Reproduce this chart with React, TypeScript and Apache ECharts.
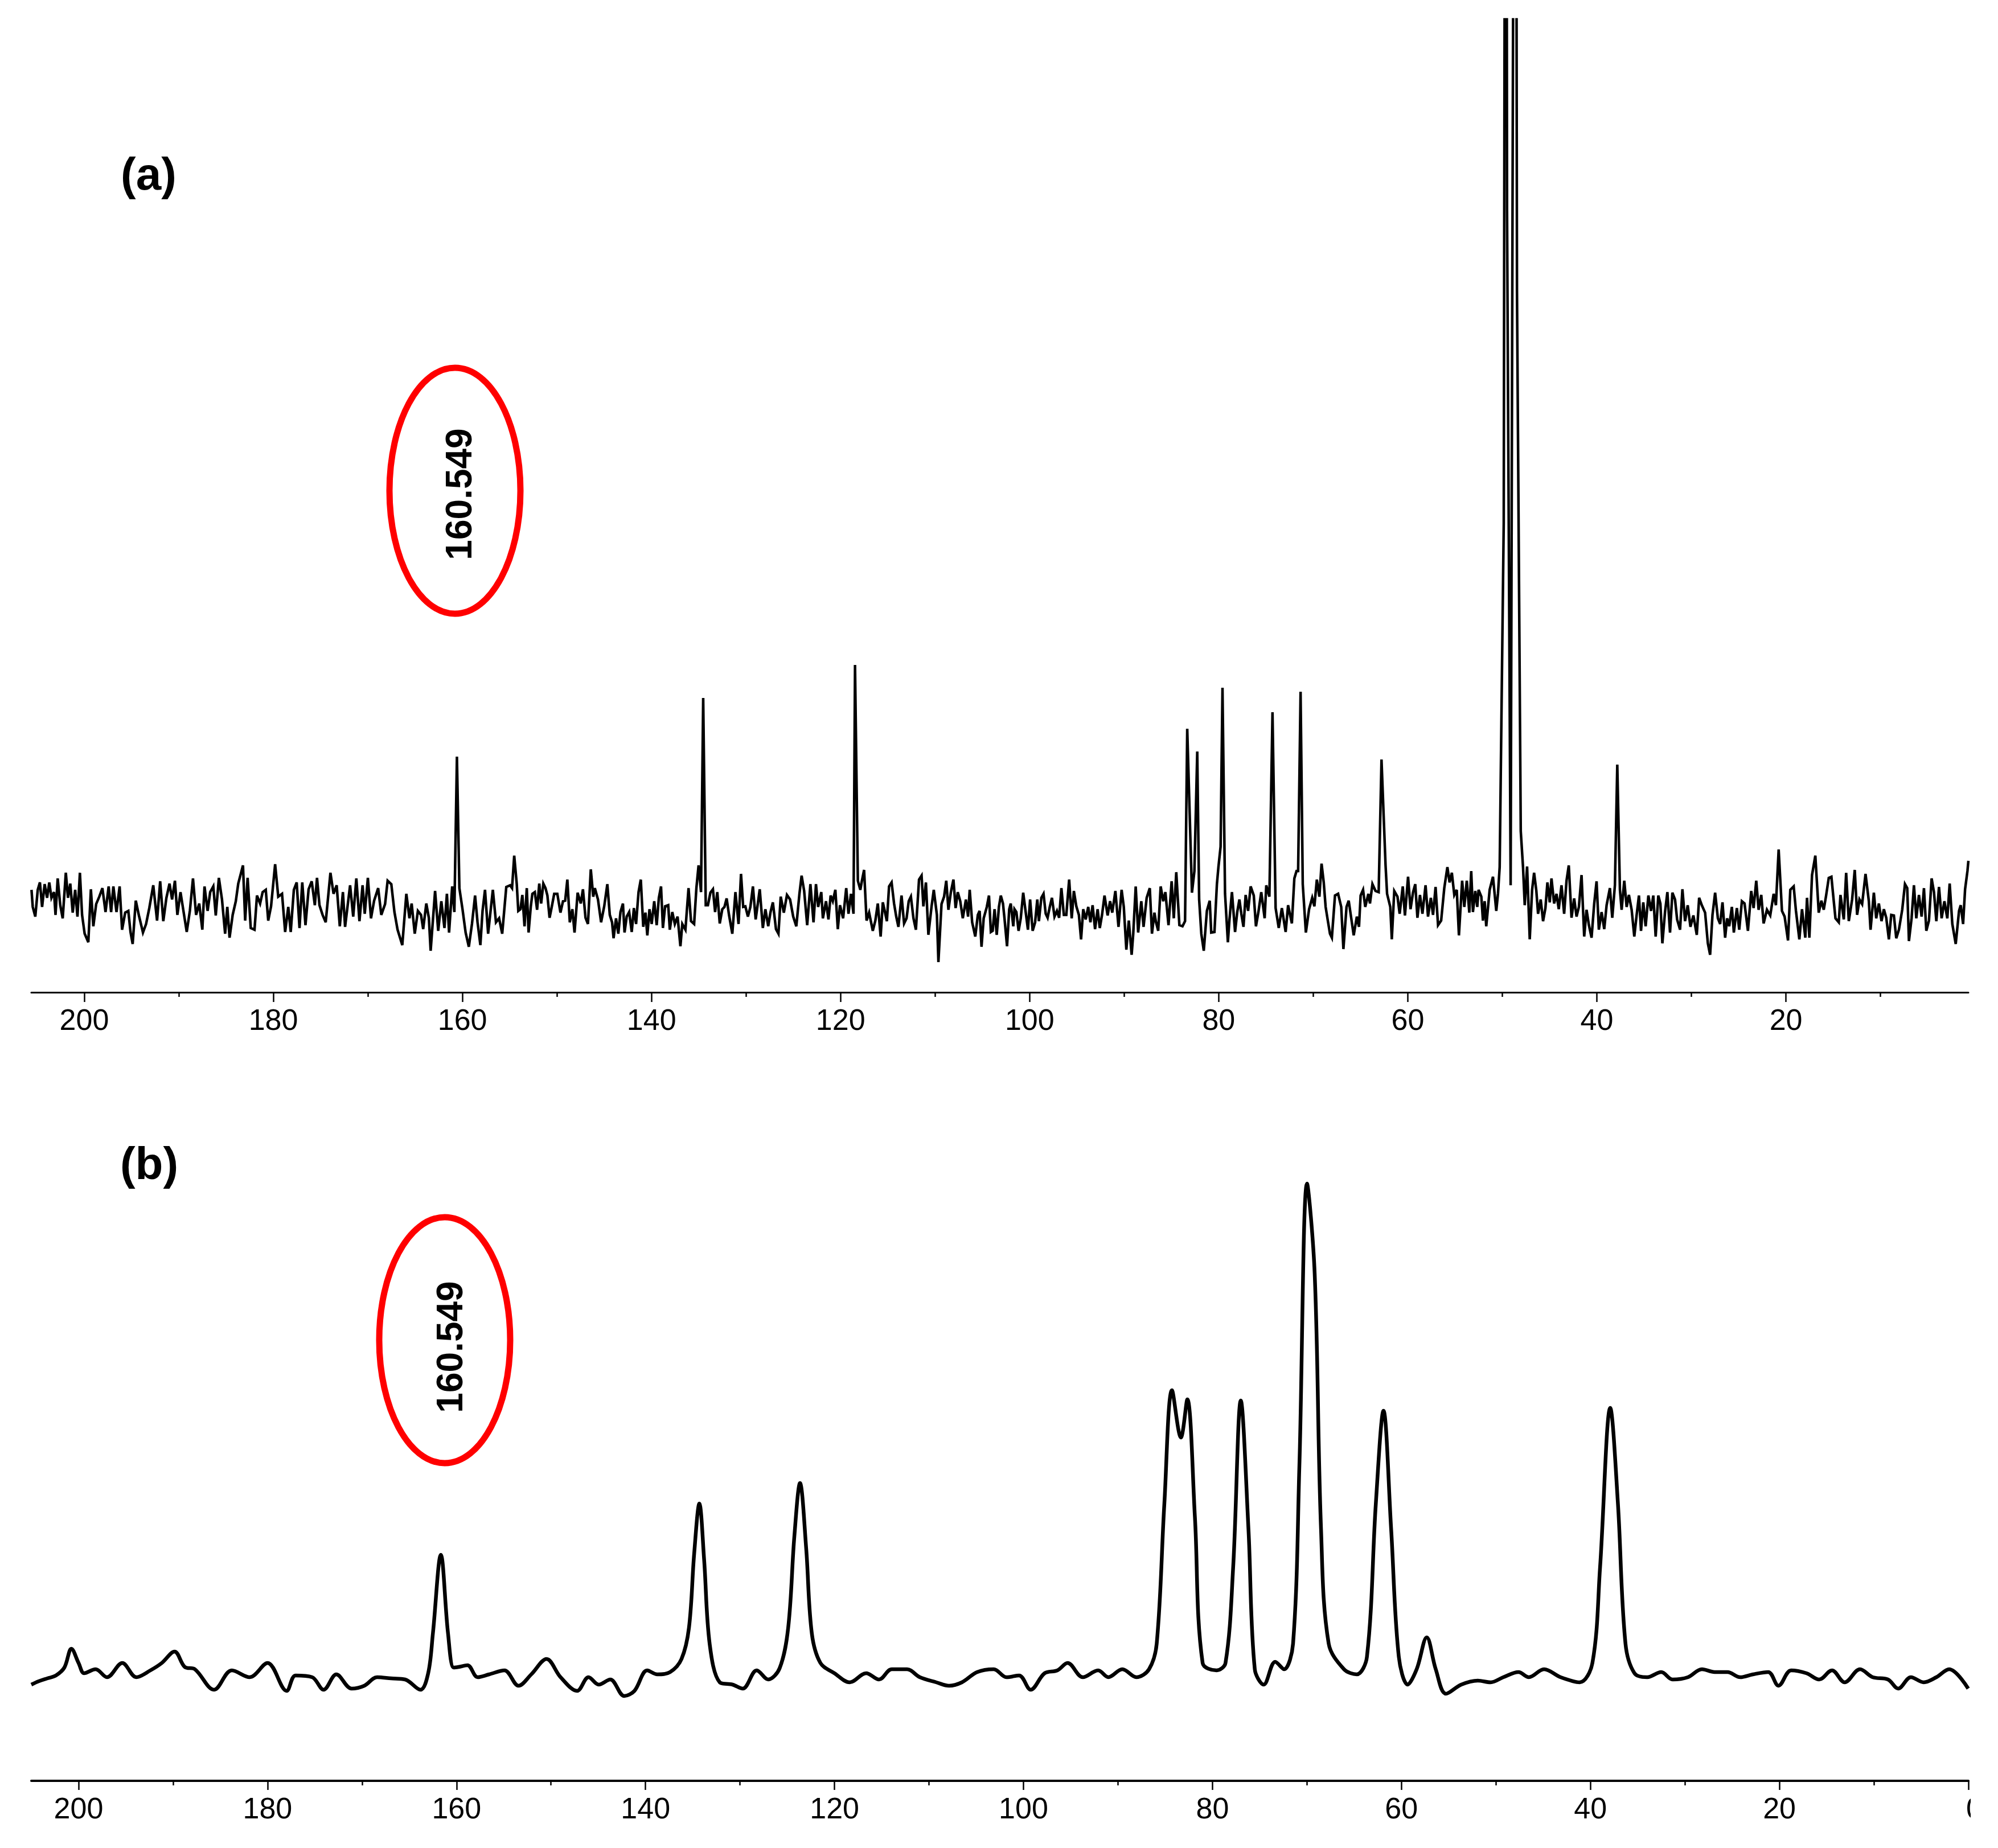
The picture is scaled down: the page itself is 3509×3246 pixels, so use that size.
import React, { useEffect, useRef } from "react";
import * as echarts from "echarts";

const W = 3509;
const H = 3246;

// ---------- (a) 13C NMR, noisy trace: [ppm, intensity] ----------
const topTrace: [number, number][] = [
  [205.58, 17], [205.45, -13], [205.18, -30], [204.92, 17], [204.69, 30], [204.46, -13], [204.19, 27], [203.93, 3],
  [203.7, 30], [203.47, 3], [203.2, 13], [203.04, -27], [202.81, 37], [202.54, -10], [202.28, -33], [201.95, 47],
  [201.72, 3], [201.48, 28], [201.22, -23], [200.96, 17], [200.72, -30], [200.46, 47], [200.23, -27], [199.96, -60],
  [199.57, -75], [199.3, 18], [199.04, -47], [198.74, -8], [198.41, 5], [198.08, 20], [197.75, -22], [197.42, 23],
  [197.16, -22], [196.92, 23], [196.59, -22], [196.26, 23], [196.0, -53], [195.67, -23], [195.34, -20], [195.11, -57],
  [194.88, -78], [194.55, -2], [194.22, -28], [193.79, -58], [193.46, -43], [193.12, -15], [192.7, 25], [192.3, -37],
  [191.97, 32], [191.64, -38], [191.31, 3], [190.98, 28], [190.71, 0], [190.41, 33], [190.15, -27], [189.82, 13],
  [189.49, -22], [189.16, -57], [188.83, -20], [188.5, 37], [188.17, -27], [187.84, -7], [187.51, -53], [187.28, 23],
  [186.95, -20], [186.68, 13], [186.35, 23], [186.09, -28], [185.76, 38], [185.43, 0], [185.1, -60], [184.87, -13],
  [184.63, -67], [184.3, -27], [183.97, -3], [183.71, 28], [183.21, 60], [182.98, -37], [182.72, 38], [182.39, -50],
  [181.99, -53], [181.73, 7], [181.4, -7], [181.13, 13], [180.8, 17], [180.54, -37], [180.24, -12], [179.81, 62],
  [179.48, 5], [179.08, 10], [178.75, -57], [178.42, -13], [178.16, -57], [177.83, 17], [177.53, 30], [177.23, -50],
  [176.94, 30], [176.6, -45], [176.27, 18], [175.94, 32], [175.61, -10], [175.38, 38], [175.12, -10], [174.79, -27],
  [174.46, -40], [173.96, 47], [173.63, 10], [173.3, 25], [172.97, -47], [172.64, 13], [172.41, -48], [171.88, 25],
  [171.55, -30], [171.22, 37], [170.89, -38], [170.56, 25], [170.33, -25], [170.0, 38], [169.67, -33], [169.34, -2],
  [168.91, 20], [168.58, -27], [168.18, -8], [167.91, 33], [167.52, 27], [167.19, -22], [166.86, -53], [166.36, -80],
  [165.93, 10], [165.6, -33], [165.37, -7], [165.04, -60], [164.71, -20], [164.38, -27], [164.15, -52], [163.82, -7],
  [163.55, -32], [163.36, -90], [162.89, 15], [162.56, -55], [162.23, -3], [161.9, -50], [161.64, 10], [161.41, -58],
  [161.08, 23], [160.85, -22], [160.32, 20], [159.99, -17], [159.66, -58], [159.32, -83], [158.99, -43], [158.66, 7],
  [158.4, -40], [158.1, -80], [157.87, -20], [157.61, 17], [157.28, -60], [156.78, 17], [156.45, -40], [156.12, -33],
  [155.79, -60], [155.36, 22], [154.96, 25], [154.75, 20], [154.52, 77], [154.25, 27], [154.09, -20], [153.86, -17],
  [153.66, 8], [153.43, -47], [153.19, 20], [153.0, -58], [152.77, -13], [152.6, 10], [152.34, 13], [152.1, -18],
  [151.87, 28], [151.67, -7], [151.44, 28], [151.21, 20], [151.01, 7], [150.78, -32], [150.55, -13], [150.29, 10],
  [149.96, 10], [149.63, -23], [149.36, -3], [149.13, -2], [148.9, 35], [148.64, -40], [148.37, -17], [148.14, -58],
  [147.81, 12], [147.48, -7], [147.25, 18], [146.98, -32], [146.72, -43], [146.42, 53], [146.16, 5], [145.99, 20],
  [145.66, 0], [145.33, -40], [145.0, -12], [144.67, 27], [144.41, -27], [144.17, -40], [144.01, -68], [143.75, -33],
  [143.51, -60], [143.28, -22], [143.02, -7], [142.85, -58], [142.62, -30], [142.36, -22], [142.09, -57], [141.86, -15],
  [141.63, -43], [141.37, 13], [141.13, 35], [140.87, -48], [140.64, -23], [140.44, -63], [140.21, -17], [139.98, -43],
  [139.71, -3], [139.45, -45], [139.22, 3], [138.99, 23], [138.79, -50], [138.56, -12], [138.23, -10], [138.06, -53],
  [137.8, -22], [137.53, -43], [137.24, -30], [136.94, -82], [136.74, -43], [136.41, -53], [136.08, 20], [135.82, -38],
  [135.49, -43], [135.25, 20], [135.02, 60], [134.76, 13], [134.26, -10], [134.03, -10], [133.77, 12], [133.5, 18],
  [133.27, -22], [133.04, 13], [132.78, -42], [132.51, -17], [132.28, -13], [132.05, 2], [131.79, -28], [131.45, -60],
  [131.12, 13], [130.79, -43], [130.53, 45], [130.3, -13], [130.07, -12], [129.8, -30], [129.54, -13], [129.27, 23],
  [128.98, -35], [128.75, -7], [128.55, 18], [128.22, -50], [127.95, -17], [127.65, -47], [127.42, -23], [127.16, -5],
  [126.83, -52], [126.57, -60], [126.33, 5], [126.0, -23], [125.67, 8], [125.34, 0], [125.01, -30], [124.68, -47],
  [124.35, 10], [124.12, 42], [123.85, 15], [123.53, -45], [123.19, 27], [122.86, -40], [122.6, 27], [122.37, -13],
  [122.04, 13], [121.87, -33], [121.54, -3], [121.28, -35], [121.05, 7], [120.82, -3], [120.55, 17], [120.29, -52],
  [120.06, -10], [119.73, -33], [119.4, 20], [119.16, -25], [118.9, 10], [118.63, -25], [118.17, 33], [117.91, 17],
  [117.74, 33], [117.51, 52], [117.25, -37], [116.98, -23], [116.59, -55], [116.32, -37], [116.06, -7], [115.76, -65],
  [115.53, -5], [115.33, -20], [115.1, -38], [114.87, 23], [114.6, 30], [114.34, -7], [114.11, -30], [113.88, -48],
  [113.55, 7], [113.28, -42], [113.02, -33], [112.79, -3], [112.56, 5], [112.29, -33], [112.03, -53], [111.7, 35],
  [111.43, 42], [111.24, -12], [110.97, 30], [110.71, -62], [110.38, -13], [110.14, 17], [109.81, -27], [109.65, -110],
  [109.32, -8], [109.05, 5], [108.82, 33], [108.59, -18], [108.33, 13], [108.06, 35], [107.83, -15], [107.6, 13],
  [107.34, -3], [107.07, -33], [106.74, 0], [106.51, -30], [106.34, 17], [106.08, -40], [105.75, -65], [105.48, -27],
  [105.29, -20], [105.09, -83], [104.86, -33], [104.53, -13], [104.3, 7], [104.1, -57], [103.91, -55], [103.71, -17],
  [103.48, -62], [103.25, -13], [103.05, 7], [102.82, -7], [102.66, -33], [102.39, -82], [102.16, -17], [102.0, -7],
  [101.73, -47], [101.6, -17], [101.4, -22], [101.17, -55], [100.94, -33], [100.68, 12], [100.41, -23], [100.18, -53],
  [99.95, 0], [99.68, -55], [99.42, -40], [99.19, 0], [99.02, -38], [98.76, 3], [98.53, 10], [98.3, -25],
  [98.1, -32], [97.87, -13], [97.64, 3], [97.37, -30], [97.11, -20], [96.88, -32], [96.64, 20], [96.38, -27],
  [96.12, -27], [95.82, 35], [95.55, -33], [95.32, 15], [95.06, -12], [94.79, -27], [94.56, -70], [94.33, -17],
  [94.07, -35], [93.8, -13], [93.57, -40], [93.34, -10], [93.08, -52], [92.81, -17], [92.58, -50], [92.35, -28],
  [92.08, 7], [91.75, -28], [91.49, -3], [91.26, -23], [90.93, 15], [90.6, -48], [90.27, 17], [90.04, -13],
  [89.77, -88], [89.51, -37], [89.21, -97], [89.04, -60], [88.78, 23], [88.52, -58], [88.19, -3], [87.95, -48],
  [87.62, 3], [87.29, 20], [87.06, -60], [86.8, -23], [86.63, -40], [86.4, -55], [86.14, 23], [85.87, -3],
  [85.64, 13], [85.31, -45], [84.98, 32], [84.75, -33], [84.49, 48], [84.16, -45], [83.83, -47], [83.56, -38],
  [82.83, 12], [82.57, 50], [82.07, 0], [81.84, -60], [81.58, -90], [81.25, -20], [80.95, -2], [80.79, -58],
  [80.45, -57], [80.19, 27], [80.03, 57], [79.8, 93], [79.33, 10], [79.03, -75], [78.87, -37], [78.6, 13],
  [78.27, -57], [78.04, -22], [77.81, 0], [77.61, -25], [77.38, -48], [77.15, 8], [76.89, -20], [76.62, 23],
  [76.29, 7], [76.06, -47], [75.8, -22], [75.5, 13], [75.14, -33], [74.97, 25], [74.64, 5], [73.98, -15],
  [73.65, -50], [73.32, -15], [72.92, -57], [72.66, -10], [72.26, -42], [72.0, 37], [71.77, 50], [71.6, 50],
  [71.11, 27], [70.78, -58], [70.44, -17], [70.11, 3], [69.88, -12], [69.62, 35], [69.35, 5], [69.12, 63],
  [68.89, 30], [68.69, -13], [68.46, -37], [68.23, -60], [68.03, -67], [67.7, 7], [67.37, 10], [67.04, -13],
  [66.81, -87], [66.48, -13], [66.25, -2], [65.98, -33], [65.72, -63], [65.39, -30], [65.16, -48], [64.99, 7],
  [64.73, 17], [64.5, -13], [64.17, 10], [64.0, -7], [63.74, 27], [63.41, 15], [63.08, 13], [62.35, 60],
  [62.19, 10], [61.85, -13], [61.69, -70], [61.43, 15], [61.09, 5], [60.86, -25], [60.53, 23], [60.3, -28],
  [59.97, 40], [59.71, -17], [59.44, 13], [59.21, 27], [58.98, -32], [58.71, 8], [58.45, -25], [58.12, 25],
  [57.86, -30], [57.56, 3], [57.33, -27], [57.06, 22], [56.8, -45], [56.47, -37], [56.14, 20], [55.81, 57],
  [55.58, 30], [55.34, 47], [55.08, 8], [54.82, 17], [54.59, -63], [54.25, 33], [54.02, -13], [53.76, 33],
  [53.49, -23], [53.29, 50], [53.11, -22], [52.86, 15], [52.65, -13], [52.51, 17], [52.22, 5], [52.05, -37],
  [51.87, -3], [51.7, -47], [51.34, 17], [50.99, 40], [50.64, -20], [50.46, 10], [50.28, 57],
  [47.81, 57], [47.63, -10], [47.38, 58], [47.1, -70], [46.85, 17], [46.64, 47], [46.4, 15], [46.22, -25],
  [45.94, 0], [45.69, -38], [45.44, -15], [45.23, 30], [44.98, -5], [44.8, 37], [44.52, -7], [44.27, 10],
  [44.03, -17], [43.74, 25], [43.46, -25], [43.21, 33], [42.97, 60], [42.68, -32], [42.4, 2], [42.15, -30],
  [41.9, -13], [41.62, 43], [41.34, -65], [41.09, -18], [40.84, -45], [40.56, -67], [40.28, -7], [40.03, 32],
  [39.79, -53], [39.5, -22], [39.22, -52], [38.97, -10], [38.62, 20], [38.37, -32], [38.09, 25], [37.56, 17],
  [37.38, -18], [37.1, 33], [36.85, -13], [36.61, 8], [36.32, -18], [36.04, -65], [35.79, -27], [35.55, 7],
  [35.33, -55], [35.09, -5], [34.84, -47], [34.55, 7], [34.27, -20], [34.03, 7], [33.78, -65], [33.5, 7],
  [33.28, -7], [33.07, -77], [32.79, -22], [32.54, 13], [32.26, -58], [32.01, 12], [31.73, 0], [31.51, -35],
  [31.2, -53], [30.95, 18], [30.67, -38], [30.39, -10], [30.1, -48], [29.79, -28], [29.43, -62], [29.18, 3],
  [28.9, -10], [28.55, -23], [28.26, -77], [28.02, -97], [27.77, -27], [27.49, 12], [27.2, -33], [26.96, -43],
  [26.71, -5], [26.43, -67], [26.22, -33], [26.0, -47], [25.72, -13], [25.51, -58], [25.19, -15], [24.94, -53],
  [24.66, -3], [24.38, -7], [24.02, -55], [23.67, 15], [23.42, -15], [23.14, 33], [22.89, -18], [22.61, 8],
  [22.36, -42], [22.01, -18], [21.66, -28], [21.3, 10], [21.06, -10], [20.77, 88], [20.42, -20], [20.14, -30],
  [19.78, -72], [19.54, 17], [19.18, 23], [18.94, -20], [18.58, -70], [18.3, -17], [17.95, -67], [17.77, 3],
  [17.52, -67], [17.24, 43], [16.89, 77], [16.53, -23], [16.25, -2], [16.0, -18], [15.75, 7], [15.47, 38],
  [15.19, 40], [14.94, -3], [14.76, -33], [14.41, -40], [14.23, 8], [13.88, -35], [13.63, 47], [13.35, -38],
  [13.0, 0], [12.72, 52], [12.47, -27], [12.22, 0], [11.94, -8], [11.58, 45], [11.23, -3], [11.05, -53],
  [10.7, 12], [10.45, -33], [10.17, -7], [9.89, -38], [9.64, -17], [9.39, -32], [9.11, -70], [8.86, -27],
  [8.58, -28], [8.33, -68], [8.05, -53], [7.7, -18], [7.41, 27], [7.17, 20], [6.99, -73], [6.71, -33],
  [6.46, 25], [6.21, -33], [5.93, 8], [5.65, -30], [5.4, 20], [5.15, -55], [4.87, -37], [4.59, 37],
  [4.34, 13], [4.09, -38], [3.81, 22], [3.53, -33], [3.24, -3], [2.93, -33], [2.68, 28], [2.4, -43],
  [2.04, -78], [1.69, -20], [1.51, -10], [1.26, -43], [1.05, 18], [0.8, 50], [0.7, 68],
];
// sharp resonances of (a): [ppm, height]
const topPeaks: [number, number][] = [
  [160.58, 251], [134.53, 354], [118.47, 412], [83.33, 300], [82.27, 260], [79.6, 372],
  [74.31, 329], [71.34, 365], [62.78, 246], [37.84, 237],
];
// solvent multiplet near 49 ppm (runs off the top of the frame)
const topBig: [number, number][] = [
  [49.85, 662], [49.62, 3000], [49.5, 1213], [49.12, 25], [48.62, 3000], [48.45, 1070], [48.05, 120],
];

// ---------- (b) smooth trace: [ppm, intensity] ----------
const bottomSpectrum: [number, number][] = [
  [205.0, 0], [204.2, 6], [203.3, 11], [202.4, 16], [201.5, 30], [200.76, 63], [200.0, 38], [199.41, 20],
  [198.2, 27], [196.99, 13], [195.37, 38], [193.89, 13],
  [192.4, 25], [191.19, 38], [189.84, 58], [188.76, 31], [187.69, 27], [185.66, -9], [183.78, 25],
  [181.89, 13], [180.0, 38], [177.98, -11], [177.04, 16], [175.28, 13], [174.07, -9], [172.72, 18],
  [171.1, -7], [169.76, -2], [168.41, 13], [166.92, 11], [165.44, 9], [163.82, -9], [163.0, 20], [162.5, 90],
  [161.66, 228], [160.9, 90], [160.3, 30], [159.78, 31], [158.84, 34], [157.76, 13], [156.55, 18], [154.93, 25],
  [153.44, -2], [152.09, 18], [150.47, 45], [148.99, 13], [147.24, -11], [146.03, 13], [144.95, 0],
  [143.73, 9], [142.25, -20], [141.17, -11], [139.82, 25], [138.75, 18], [137.4, 22], [136.19, 45],
  [135.4, 100], [134.85, 230], [134.3, 318], [133.8, 220], [133.2, 70], [132.14, 4], [130.79, 0], [129.71, -7], [128.23, 25],
  [127.02, 9], [125.8, 29], [124.9, 100], [124.25, 260], [123.65, 354], [123.0, 240], [122.4, 90], [121.49, 38], [120.01, 20],
  [118.39, 4], [116.64, 20], [115.29, 9], [113.94, 27], [112.32, 27], [110.97, 13], [109.22, 4],
  [107.87, -2], [106.52, 4], [104.9, 22], [103.15, 27], [101.8, 13], [100.46, 16], [99.24, -9],
  [97.76, 20], [96.41, 25], [95.33, 38], [93.72, 13], [92.1, 25], [91.02, 13], [89.54, 27],
  [88.05, 13], [86.71, 27], [85.9, 72], [85.09, 318], [84.28, 517], [83.34, 434], [82.66, 501],
  [81.86, 295], [81.04, 38], [79.56, 25], [78.62, 38], [77.81, 206], [77.0, 499], [76.19, 273],
  [75.52, 27], [74.57, 0], [73.36, 40], [72.42, 27], [71.47, 72], [70.8, 385], [69.99, 880],
  [69.18, 721], [68.51, 273], [67.7, 72], [66.08, 27], [64.73, 18], [63.65, 49], [62.71, 318],
  [61.9, 481], [61.09, 273], [60.28, 49], [59.34, 0], [58.39, 27], [57.32, 83], [56.37, 27],
  [55.29, -16], [53.67, 0], [51.92, 7], [50.57, 4], [49.22, 13], [47.61, 22], [46.52, 13],
  [44.91, 27], [43.16, 13], [41.14, 4], [39.79, 38], [38.98, 206], [37.9, 486], [37.09, 318],
  [36.29, 72], [35.34, 20], [33.99, 13], [32.51, 22], [31.3, 9], [29.68, 13], [28.2, 27],
  [26.85, 22], [25.5, 22], [24.15, 13], [22.8, 18], [21.18, 22], [20.1, -2], [18.76, 25],
  [17.14, 20], [15.79, 9], [14.44, 25], [13.09, 4], [11.47, 27], [10.13, 13], [8.51, 9],
  [7.43, -7], [6.08, 13], [4.73, 4], [3.39, 13], [2.04, 27], [0.02, -7],
];

const majorTicks = [20, 40, 60, 80, 100, 120, 140, 160, 180, 200];
const bottomMajorTicks = [0, 20, 40, 60, 80, 100, 120, 140, 160, 180, 200];
const minorTicks = [10, 30, 50, 70, 90, 110, 130, 150, 170, 190];
const markedShift = "160.549";

const NARROW = "'Liberation Sans Narrow', 'Arial Narrow', 'Liberation Sans', Arial, sans-serif";
const SANS = "'Liberation Sans', Arial, Helvetica, sans-serif";

function buildTop(): [number, number][] {
  const pts: [number, number][] = topTrace.map((p) => [p[0], p[1]] as [number, number]);
  topPeaks.forEach((p) => pts.push([p[0], p[1]]));
  topBig.forEach((p) => pts.push([p[0], p[1]]));
  pts.sort((a, b) => b[0] - a[0]);
  return pts;
}

export default function App() {
  const ref = useRef<HTMLDivElement>(null);
  useEffect(() => {
    if (!ref.current) return;
    const chart = echarts.init(ref.current, undefined, { renderer: "svg", width: W, height: H });
    const topGrid = { left: 55, right: 52, top: 34, bottom: H - 1743 };
    const botGrid = { left: 55, right: 52, top: 1990, bottom: H - 3128 };
    const labelStyle = { color: "#000", fontSize: 52, fontFamily: NARROW, margin: 22 };
    const option: any = {
      animation: false,
      backgroundColor: "#ffffff",
      grid: [
        { ...topGrid, containLabel: false },
        { ...botGrid, containLabel: false },
      ],
      xAxis: [
        {
          type: "value", gridIndex: 0, inverse: true, min: 0.7, max: 205.6, position: "bottom",
          axisLine: { show: true, onZero: false, lineStyle: { color: "#000", width: 3 } },
          axisTick: { show: true, customValues: majorTicks, length: 17, lineStyle: { color: "#000", width: 2.5 } },
          axisLabel: { show: true, customValues: majorTicks, ...labelStyle },
          splitLine: { show: false },
        },
        {
          type: "value", gridIndex: 0, inverse: true, min: 0.7, max: 205.6, position: "bottom",
          axisLine: { show: false, onZero: false },
          axisTick: { show: true, customValues: minorTicks, length: 8, lineStyle: { color: "#000", width: 2.5 } },
          axisLabel: { show: false },
          splitLine: { show: false },
        },
        {
          type: "value", gridIndex: 1, inverse: true, min: 0, max: 205, position: "bottom",
          axisLine: { show: true, onZero: false, lineStyle: { color: "#000", width: 4 } },
          axisTick: { show: true, customValues: bottomMajorTicks, length: 16, lineStyle: { color: "#000", width: 2.5 } },
          axisLabel: { show: true, customValues: majorTicks, ...labelStyle },
          splitLine: { show: false },
        },
        {
          type: "value", gridIndex: 1, inverse: true, min: 0, max: 205, position: "bottom",
          axisLine: { show: false, onZero: false },
          axisTick: { show: true, customValues: minorTicks, length: 8, lineStyle: { color: "#000", width: 2.5 } },
          axisLabel: { show: false },
          splitLine: { show: false },
        },
      ],
      yAxis: [
        { type: "value", gridIndex: 0, min: -163, max: 1546, show: false },
        { type: "value", gridIndex: 1, min: -169, max: 969, show: false },
      ],
      series: [
        {
          type: "line", xAxisIndex: 0, yAxisIndex: 0, data: buildTop(), showSymbol: false,
          clip: true, lineStyle: { color: "#000", width: 4.5, join: "miter" }, silent: true,
        },
        {
          type: "line", xAxisIndex: 2, yAxisIndex: 1, data: bottomSpectrum, showSymbol: false,
          clip: true, smooth: 0.35, lineStyle: { color: "#000", width: 6.5 }, silent: true,
        },
      ],
      graphic: [
        { type: "text", x: 261, y: 305, style: { text: "(a)", font: `bold 80px ${SANS}`, fill: "#000", textAlign: "center", textVerticalAlign: "middle" } },
        { type: "text", x: 262, y: 2043, style: { text: "(b)", font: `bold 80px ${SANS}`, fill: "#000", textAlign: "center", textVerticalAlign: "middle" } },
        { type: "ellipse", shape: { cx: 799, cy: 862, rx: 115, ry: 216 }, style: { fill: "none", stroke: "#ff0000", lineWidth: 11 } },
        { type: "text", x: 806, y: 868, rotation: Math.PI / 2, style: { text: markedShift, font: `bold 64px ${SANS}`, fill: "#000", textAlign: "center", textVerticalAlign: "middle" } },
        { type: "ellipse", shape: { cx: 781, cy: 2354, rx: 115, ry: 216 }, style: { fill: "none", stroke: "#ff0000", lineWidth: 11 } },
        { type: "text", x: 790, y: 2366, rotation: Math.PI / 2, style: { text: markedShift, font: `bold 64px ${SANS}`, fill: "#000", textAlign: "center", textVerticalAlign: "middle" } },
        { type: "text", x: 3453, y: 3176, style: { text: "0", font: `52px ${NARROW}`, fill: "#000", textAlign: "left", textVerticalAlign: "middle" } },
        { type: "rect", z: 100, shape: { x: 3461, y: 3140, width: 48, height: 80 }, style: { fill: "#ffffff" } },
      ],
    };
    chart.setOption(option);
    return () => chart.dispose();
  }, []);
  return (
    <div
      ref={ref}
      style={{ position: "absolute", left: 0, top: 0, width: W, height: H, background: "#fff" }}
    />
  );
}
